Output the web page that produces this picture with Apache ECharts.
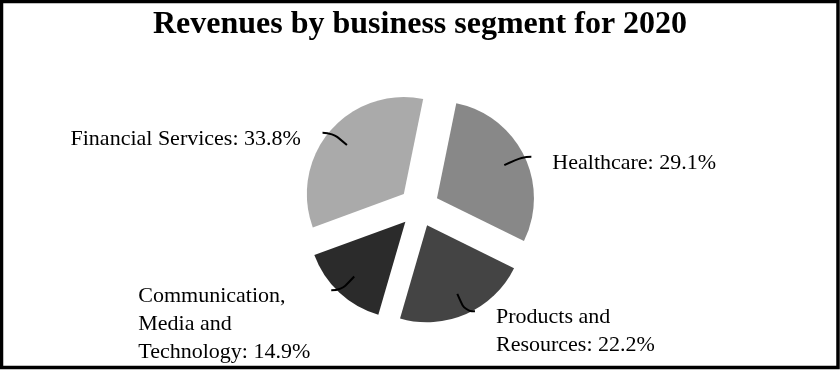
<!DOCTYPE html>
<html>
<head>
<meta charset="utf-8">
<script src="https://cdn.jsdelivr.net/npm/echarts@6/dist/echarts.min.js"></script>
<style>
  html, body { margin: 0; padding: 0; background: #fff; }
  #chart { width: 840px; height: 370px; }
</style>
</head>
<body>
<div id="chart"></div>
<script>
// ---- data ----
const categories = ['Healthcare', 'Products and Resources', 'Communication, Media and Technology', 'Financial Services'];
const shares = [29.1, 22.2, 14.9, 33.8];
const labelNames = ['Healthcare', 'Products and\nResources', 'Communication,\nMedia and\nTechnology', 'Financial Services'];
const titleText = 'Revenues by business segment for 2020';

// ---- styles ----
const sliceColors = ['#888888', '#444444', '#2b2b2b', '#aaaaaa'];
const serif = "'Liberation Serif', 'DejaVu Serif', serif";
const labelFontSize = 22;
const labelLineHeight = 28;

const chart = echarts.init(document.getElementById('chart'), null, { renderer: 'canvas' });

const pieCenter = [419, 207];
const offset = 20;
const startAngle = 78.5;

// measure text widths for left-aligned multi-line blocks
const measureCtx = document.createElement('canvas').getContext('2d');
measureCtx.font = labelFontSize + 'px ' + serif;

function labelText(i) {
  return labelNames[i] + ': ' + shares[i].toFixed(1) + '%';
}

const visibleData = categories.map((c, i) => ({
  name: c, value: shares[i], selected: true,
  itemStyle: { color: sliceColors[i] }
}));

const labelData = categories.map((c, i) => {
  const lines = labelText(i).split('\n');
  const w = Math.ceil(Math.max(...lines.map(l => measureCtx.measureText(l).width)));
  const h = lines.length * labelLineHeight;
  return {
    name: c, value: shares[i], selected: true,
    itemStyle: { color: 'rgba(0,0,0,0)' },
    label: {
      formatter: lines.map(l => '{t|' + l + '}').join('\n'),
      padding: [h - 16, 0, 0, 0],
      rich: {
        t: {
          width: w,
          align: 'left',
          fontFamily: serif,
          fontSize: labelFontSize,
          lineHeight: labelLineHeight,
          color: '#000'
        }
      }
    }
  };
});

chart.setOption({
  animation: false,
  backgroundColor: '#ffffff',
  title: {
    text: titleText,
    left: 'center',
    top: 4,
    textStyle: { fontFamily: serif, fontWeight: 'bold', fontSize: 32, color: '#000' }
  },
  graphic: [{
    type: 'rect',
    shape: { x: 1.5, y: 1.5, width: 836.5, height: 366 },
    style: { fill: null, stroke: '#000', lineWidth: 3.5 },
    silent: true,
    z: 100
  }],
  series: [
    {
      type: 'pie',
      z: 2,
      center: pieCenter,
      radius: 97,
      startAngle: startAngle,
      clockwise: true,
      selectedMode: 'multiple',
      selectedOffset: offset,
      silent: true,
      label: { show: false },
      labelLine: { show: false },
      emphasis: { disabled: true },
      select: { itemStyle: { borderWidth: 0 } },
      data: visibleData
    },
    {
      type: 'pie',
      z: 5,
      center: pieCenter,
      radius: 75,
      startAngle: startAngle,
      clockwise: true,
      selectedMode: 'multiple',
      selectedOffset: offset,
      silent: true,
      avoidLabelOverlap: false,
      emphasis: { disabled: true },
      select: { itemStyle: { borderWidth: 0 } },
      label: {
        show: true,
        position: 'outside',
        color: '#000',
        fontFamily: serif,
        fontSize: labelFontSize,
        lineHeight: labelLineHeight,
        distanceToLabelLine: 21
      },
      labelLine: {
        show: true,
        length: 19,
        length2: 10,
        smooth: 0.5,
        lineStyle: { color: '#000', width: 2 }
      },
      data: labelData
    }
  ]
});
</script>
</body>
</html>
